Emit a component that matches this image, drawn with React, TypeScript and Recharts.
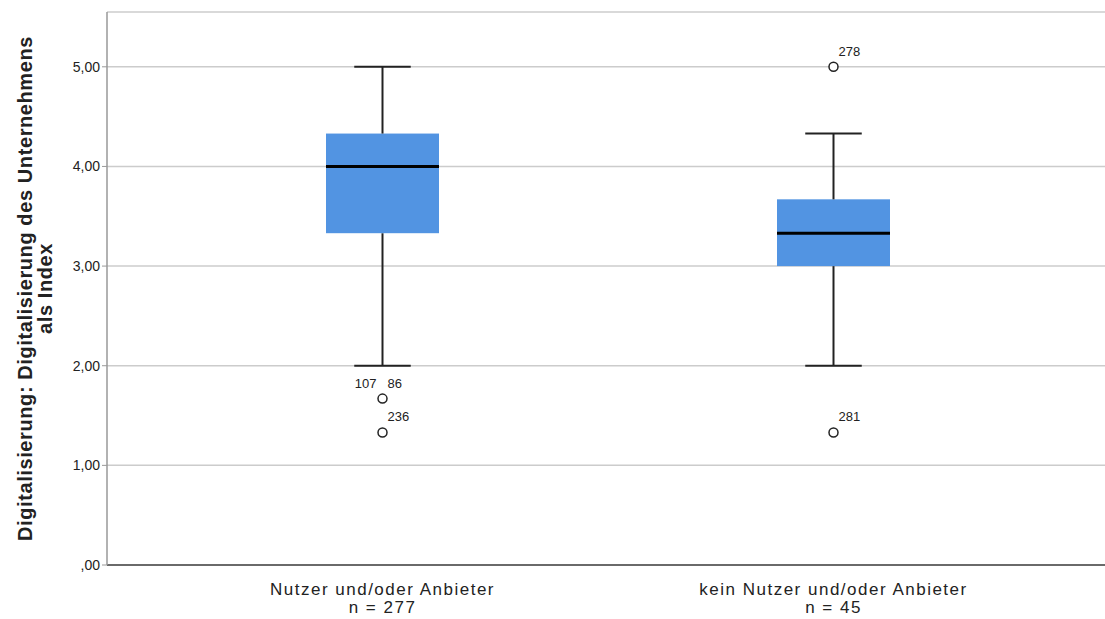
import {
  ComposedChart,
  Bar,
  Scatter,
  XAxis,
  YAxis,
  CartesianGrid,
} from 'recharts';

const categories = ['Nutzer und/oder Anbieter', 'kein Nutzer und/oder Anbieter'];
const sampleSizes = [277, 45];
const whiskerLow = [2.0, 2.0];
const q1 = [3.33, 3.0];
const median = [4.0, 3.33];
const q3 = [4.33, 3.67];
const whiskerHigh = [5.0, 4.33];
// two outlier slots per group, with case labels (right side / left side)
const outlierA = [1.67, 5.0];
const outlierALabel = ['86', '278'];
const outlierALeft = ['107', ''];
const outlierB = [1.33, 1.33];
const outlierBLabel = ['236', '281'];
const yTicks = [0, 1, 2, 3, 4, 5];

const data = categories.map((name, i) => ({
  name,
  n: sampleSizes[i],
  base: whiskerLow[i],
  lw: q1[i] - whiskerLow[i],
  b1: median[i] - q1[i],
  b2: q3[i] - median[i],
  uw: whiskerHigh[i] - q3[i],
  outA: outlierA[i],
  outALabel: outlierALabel[i],
  outALeft: outlierALeft[i],
  outB: outlierB[i],
  outBLabel: outlierBLabel[i],
}));

const BOX = '#5294e2';
const INK = '#222';
const FONT = 'Liberation Sans, Arial, sans-serif';

const LowerWhisker = (p: any) => {
  const cx = p.x + p.width / 2;
  return (
    <g>
      <line x1={cx} x2={cx} y1={p.y} y2={p.y + p.height} stroke={INK} strokeWidth={2} />
      <line x1={p.x + p.width / 4} x2={p.x + (3 * p.width) / 4} y1={p.y + p.height} y2={p.y + p.height} stroke={INK} strokeWidth={2} />
    </g>
  );
};

const UpperWhisker = (p: any) => {
  const cx = p.x + p.width / 2;
  return (
    <g>
      <line x1={cx} x2={cx} y1={p.y} y2={p.y + p.height} stroke={INK} strokeWidth={2} />
      <line x1={p.x + p.width / 4} x2={p.x + (3 * p.width) / 4} y1={p.y} y2={p.y} stroke={INK} strokeWidth={2} />
    </g>
  );
};

const LowerBox = (p: any) => <rect x={p.x} y={p.y} width={p.width} height={p.height} fill={BOX} />;

const UpperBox = (p: any) => (
  <g>
    <rect x={p.x} y={p.y} width={p.width} height={p.height} fill={BOX} />
    <line x1={p.x} x2={p.x + p.width} y1={p.y + p.height} y2={p.y + p.height} stroke="#000" strokeWidth={3} />
  </g>
);

const makeOutlier = (labelKey: string, leftKey?: string) => (p: any) => {
  if (p.cx == null || p.cy == null) return <g />;
  const right = p.payload?.[labelKey];
  const left = leftKey ? p.payload?.[leftKey] : '';
  return (
    <g>
      <circle cx={p.cx} cy={p.cy} r={4.5} fill="#fff" stroke={INK} strokeWidth={1.5} />
      {right ? (
        <text x={p.cx + 5} y={p.cy - 11} fontSize={13} fill={INK} fontFamily={FONT}>
          {right}
        </text>
      ) : null}
      {left ? (
        <text x={p.cx - 6} y={p.cy - 11} fontSize={13} fill={INK} fontFamily={FONT} textAnchor="end">
          {left}
        </text>
      ) : null}
    </g>
  );
};

const CategoryTick = (p: any) => {
  const i = categories.indexOf(p.payload.value);
  return (
    <text x={p.x} y={p.y} textAnchor="middle" fontSize={17} letterSpacing={1.5} fill={INK} fontFamily={FONT}>
      <tspan x={p.x} dy={22}>{p.payload.value}</tspan>
      <tspan x={p.x} dy={18}>{`n = ${sampleSizes[i]}`}</tspan>
    </text>
  );
};

const fmt = (v: number) => (v === 0 ? ',00' : v.toFixed(2).replace('.', ','));

const YTitle = (p: any) => {
  const vb = p.viewBox || { x: 0, y: 12, width: 107, height: 553 };
  const cy = vb.y + vb.height / 2;
  return (
    <g fontFamily={FONT} fontWeight="bold" fontSize={20} letterSpacing={0.6} fill={INK}>
      <text x={32} y={cy} textAnchor="middle" transform={`rotate(-90 32 ${cy})`}>
        Digitalisierung: Digitalisierung des Unternehmens
      </text>
      <text x={52} y={cy} textAnchor="middle" transform={`rotate(-90 52 ${cy})`}>
        als Index
      </text>
    </g>
  );
};

export default function App() {
  return (
    <div style={{ position: 'absolute', left: 0, top: 0, background: '#fff' }}>
      <ComposedChart width={1105} height={619} data={data} margin={{ top: 12, right: 0, left: 0, bottom: 0 }}>
        <CartesianGrid vertical={false} stroke="#cccccc" strokeWidth={1.5} />
        <XAxis
          dataKey="name"
          height={54}
          padding={{ left: 50, right: 46 }}
          axisLine={{ stroke: '#444', strokeWidth: 1.5 }}
          tickLine={false}
          tick={<CategoryTick />}
          interval={0}
        />
        <YAxis
          width={107}
          domain={[0, 5.55]}
          ticks={yTicks}
          tickFormatter={fmt}
          axisLine={{ stroke: '#999', strokeWidth: 1.5 }}
          tickLine={{ stroke: '#999' }}
          tickSize={5}
          tickMargin={2}
          tick={{ fontSize: 14, fill: INK, fontFamily: FONT }}
          label={{ content: <YTitle /> }}
        />
        <Bar dataKey="base" stackId="box" fill="transparent" barSize={113} isAnimationActive={false} />
        <Bar dataKey="lw" stackId="box" barSize={113} shape={LowerWhisker} isAnimationActive={false} />
        <Bar dataKey="b1" stackId="box" barSize={113} shape={LowerBox} isAnimationActive={false} />
        <Bar dataKey="b2" stackId="box" barSize={113} shape={UpperBox} isAnimationActive={false} />
        <Bar dataKey="uw" stackId="box" barSize={113} shape={UpperWhisker} isAnimationActive={false} />
        <Scatter dataKey="outA" shape={makeOutlier('outALabel', 'outALeft')} isAnimationActive={false} />
        <Scatter dataKey="outB" shape={makeOutlier('outBLabel')} isAnimationActive={false} />
      </ComposedChart>
    </div>
  );
}
